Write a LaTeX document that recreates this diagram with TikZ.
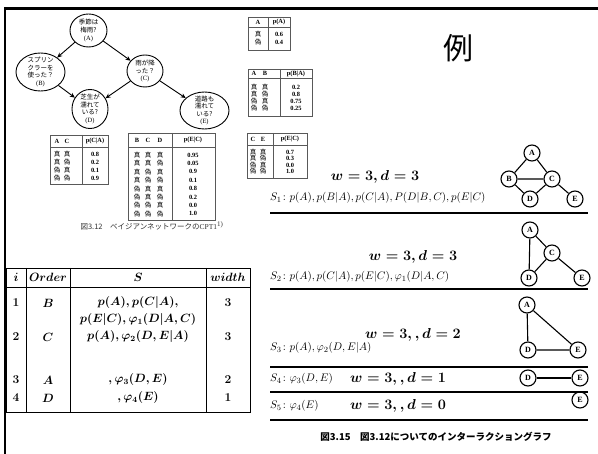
\documentclass[tikz,border=0pt]{standalone}
\usepackage{amsmath}
\usepackage{bm}
\usepackage{fontspec}
\newfontfamily\cjk{Noto Sans CJK JP}
\newfontfamily\tnr{Liberation Serif}
\usetikzlibrary{shapes.geometric,arrows.meta}
\begin{document}
\begin{tikzpicture}[x=1pt,y=-1pt,
  bnshape/.style={ellipse,draw,line width=0.9pt,inner sep=0pt},
  bntext/.style={align=center,inner sep=0pt,font=\cjk\fontsize{6.5}{7.6}\selectfont},
  arr/.style={-{Stealth[length=5pt,width=4.5pt]},line width=0.9pt},
  tframe/.style={draw=black!65,line width=0.8pt},
  tx/.style={font=\tnr\bfseries\fontsize{6.4}{7}\selectfont,inner sep=0pt},
  tj/.style={font=\cjk\fontsize{6.5}{7}\selectfont,inner sep=0pt},
  vtx/.style={circle,draw,line width=1.1pt,minimum size=16pt,inner sep=0pt,font=\tnr\bfseries\fontsize{8}{9}\selectfont},
  gedge/.style={line width=1.1pt},
  sepline/.style={line width=1.8pt},
  wd/.style={font=\fontsize{14}{16}\selectfont\boldmath,inner sep=0pt},
  sl/.style={font=\fontsize{11.3}{13}\selectfont,inner sep=0pt,anchor=west},
  tb/.style={font=\fontsize{12}{14}\selectfont\boldmath,inner sep=0pt},
]
\useasboundingbox (0,0) rectangle (598,454);
\fill[white] (0,0) rectangle (598,454);
% page border
\draw[line width=2.6pt] (5,455) -- (5,8.5) -- (599,8.5);

% Bayesian network
\node[bnshape,minimum width=37pt,minimum height=33pt] (nA) at (88.5,30.5) {};
\node[bntext] (tA) at (nA) {季節は\\梅雨?\\{\tnr (A)}};
\node[bnshape,minimum width=49pt,minimum height=38pt] (nB) at (40.5,72) {};
\node[bntext] (tB) at (nB) {スプリン\\クラーを\\使った？\\{\tnr (B)}};
\node[bnshape,minimum width=36pt,minimum height=32pt] (nC) at (145,71) {};
\node[bntext] (tC) at (nC) {雨が降\\った？\\{\tnr (C)}};
\node[bnshape,minimum width=36pt,minimum height=39pt] (nD) at (90,109) {};
\node[bntext] (tD) at (nD) {芝生が\\濡れて\\いる?\\{\tnr (D)}};
\node[bnshape,minimum width=49pt,minimum height=37pt] (nE) at (204.5,110.5) {};
\node[bntext] (tE) at (nE) {道路も\\濡れて\\いる?\\{\tnr (E)}};
\draw[arr] (nA) -- (nB);
\draw[arr] (nA) -- (nC);
\draw[arr] (nB) -- (nD);
\draw[arr] (nC) -- (nD);
\draw[arr] (nC) -- (nE);

% table p(A)
\draw[tframe] (248,17) rectangle (290,50) (268,17) -- (268,50) (248,27) -- (290,27);
\node[tx] (paH1) at (258,22) {A};
\node[tx] (paH2) at (279,22) {p(A)};
\foreach \a/\v [count=\n] in {真/0.6, 偽/0.4} {
  \node[tj] (paL\n) at (258,26+8*\n) {\a};
  \node[tx] (paR\n) at (279,26+8*\n) {\v};
}

% table p(B|A)
\draw[tframe] (248,69) rectangle (312,116) (280,69) -- (280,116) (248,78) -- (312,78);
\node[tx] (pbH1) at (254,73.5) {A};
\node[tx] (pbH2) at (265,73.5) {B};
\node[tx] (pbH3) at (296,73.5) {p(B|A)};
\foreach \a/\b/\v [count=\n] in {真/真/0.2, 真/偽/0.8, 偽/真/0.75, 偽/偽/0.25} {
  \node[tj] (pbL\n) at (254,80+7*\n) {\a};
  \node[tj] (pbM\n) at (265,80+7*\n) {\b};
  \node[tx] (pbR\n) at (296,80+7*\n) {\v};
}

% table p(C|A)
\draw[tframe] (50,135) rectangle (108,184) (82,135) -- (82,184) (50,147) -- (108,147);
\node[tx] (pcH1) at (57,141) {A};
\node[tx] (pcH2) at (67,141) {C};
\node[tx] (pcH3) at (95,141) {p(C|A)};
\foreach \a/\b/\v [count=\n] in {真/真/0.8, 真/偽/0.2, 偽/真/0.1, 偽/偽/0.9} {
  \node[tj] (pcL\n) at (57,146+8*\n) {\a};
  \node[tj] (pcM\n) at (67,146+8*\n) {\b};
  \node[tx] (pcR\n) at (95,146+8*\n) {\v};
}

% table B C D
\draw[tframe] (128,133) rectangle (215,220) (172,133) -- (172,220) (128,147) -- (215,147);
\node[tx] (pdH1) at (137,140) {B};
\node[tx] (pdH2) at (148,140) {C};
\node[tx] (pdH3) at (160,140) {D};
\node[tx] (pdH4) at (193,140) {p(E|C)};
\foreach \a/\b/\c/\v [count=\n] in {真/真/真/0.95, 真/真/偽/0.05, 真/偽/真/0.9, 真/偽/偽/0.1, 偽/真/真/0.8, 偽/真/偽/0.2, 偽/偽/真/0.0, 偽/偽/偽/1.0} {
  \node[tj] (pdL\n) at (137,146.6+8.4*\n) {\a};
  \node[tj] (pdM\n) at (148,146.6+8.4*\n) {\b};
  \node[tj] (pdN\n) at (160,146.6+8.4*\n) {\c};
  \node[tx] (pdR\n) at (193,146.6+8.4*\n) {\v};
}

% table C E
\draw[tframe] (247,133) rectangle (307,178) (273,133) -- (273,178) (247,145) -- (307,145);
\node[tx] (peH1) at (253,139) {C};
\node[tx] (peH2) at (263,139) {E};
\node[tx] (peH3) at (290,139) {p(E|C)};
\foreach \a/\b/\v [count=\n] in {真/真/0.7, 真/偽/0.3, 偽/真/0.0, 偽/偽/1.0} {
  \node[tj] (peL\n) at (253,145.5+6.5*\n) {\a};
  \node[tj] (peM\n) at (263,145.5+6.5*\n) {\b};
  \node[tx] (peR\n) at (290,145.5+6.5*\n) {\v};
}

\node[font=\cjk\fontsize{7.5}{9}\selectfont,inner sep=0pt,text=black!80] (cap1) at (152,226) {図3.12\quad ベイジアンネットワークの{\tnr CPT1}$^{\text{\tnr\scriptsize 1)}}$};

% 例
\node[font=\cjk\fontsize{30}{34}\selectfont,inner sep=0pt] (rei) at (458,48) {例};

% elimination table
\draw[line width=0.9pt] (6,268) rectangle (250,412);
\draw[line width=0.9pt] (26,268) -- (26,412) (70,268) -- (70,412) (206,268) -- (206,412) (6,287) -- (250,287);
\node[tb] (h1) at (16,277.5) {$i$};
\node[tb] (h2) at (48,277.5) {$Order$};
\node[tb] (h3) at (138,277.5) {$S$};
\node[tb] (h4) at (228,277.5) {$width$};
\node[tb] (r1a) at (16,303) {$1$};
\node[tb] (r1b) at (48,303) {$B$};
\node[tb] (r1c) at (138,303) {$p(A), p(C|A),$};
\node[tb] (r1d) at (228,303) {$3$};
\node[tb] (r1e) at (138,320) {$p(E|C), \varphi_1(D|A,C)$};
\node[tb] (r2a) at (16,337) {$2$};
\node[tb] (r2b) at (48,337) {$C$};
\node[tb] (r2c) at (138,337) {$p(A), \varphi_2(D,E|A)$};
\node[tb] (r2d) at (228,337) {$3$};
\node[tb] (r3a) at (16,380) {$3$};
\node[tb] (r3b) at (48,380) {$A$};
\node[tb] (r3c) at (138,380) {$,\varphi_3(D,E)$};
\node[tb] (r3d) at (228,380) {$2$};
\node[tb] (r4a) at (16,398) {$4$};
\node[tb] (r4b) at (48,398) {$D$};
\node[tb] (r4c) at (138,398) {$,\varphi_4(E)$};
\node[tb] (r4d) at (228,398) {$1$};

% interaction graphs
\node[wd] (w1) at (375,177) {$w = 3, d = 3$};
\node[sl] (s1) at (270,198) {$S_1\colon p(A), p(B|A), p(C|A), P(D|B,C), p(E|C)$};
\node[vtx] (g1A) at (532,153) {A};
\node[vtx] (g1B) at (509,179) {B};
\node[vtx] (g1C) at (552,179) {C};
\node[vtx] (g1D) at (530,199) {D};
\node[vtx] (g1E) at (575,199) {E};
\draw[gedge] (g1A) -- (g1B) (g1A) -- (g1C) (g1B) -- (g1C) (g1B) -- (g1D) (g1C) -- (g1D) (g1C) -- (g1E);
\coordinate (l1a) at (270,213); \coordinate (l1b) at (588,213);
\draw[sepline] (l1a) -- (l1b);

\node[wd] (w2) at (413,257) {$w = 3, d = 3$};
\node[sl] (s2) at (270,277) {$S_2\colon p(A), p(C|A), p(E|C), \varphi_1(D|A,C)$};
\node[vtx] (g2A) at (530,230) {A};
\node[vtx] (g2C) at (552,253) {C};
\node[vtx] (g2D) at (529,278) {D};
\node[vtx] (g2E) at (582,278) {E};
\draw[gedge] (g2A) -- (g2D) (g2A) -- (g2C) (g2C) -- (g2D) (g2C) -- (g2E);
\coordinate (l2a) at (270,289); \coordinate (l2b) at (588,289);
\draw[sepline] (l2a) -- (l2b);

\node[wd] (w3) at (413,335) {$w = 3, , d = 2$};
\node[sl] (s3) at (270,348) {$S_3\colon p(A), \varphi_2(D,E|A)$};
\node[vtx] (g3A) at (527,305) {A};
\node[vtx] (g3D) at (528,350) {D};
\node[vtx] (g3E) at (578,350) {E};
\draw[gedge] (g3A) -- (g3D) (g3A) -- (g3E) (g3D) -- (g3E);
\coordinate (l3a) at (270,367); \coordinate (l3b) at (588,367);
\draw[sepline] (l3a) -- (l3b);

\node[sl] (s4) at (270,379) {$S_4\colon \varphi_3(D,E)$};
\node[wd,anchor=west] (w4) at (350,379) {$w = 3, , d = 1$};
\node[vtx] (g4D) at (528,378) {D};
\node[vtx] (g4E) at (580,378) {E};
\draw[gedge] (g4D) -- (g4E);
\coordinate (l4a) at (270,392); \coordinate (l4b) at (588,392);
\draw[sepline] (l4a) -- (l4b);

\node[sl] (s5) at (270,406) {$S_5\colon \varphi_4(E)$};
\node[wd,anchor=west] (w5) at (350,406) {$w = 3, , d = 0$};
\node[vtx] (g5E) at (580,400) {E};
\coordinate (l5a) at (270,420); \coordinate (l5b) at (588,420);
\draw[sepline] (l5a) -- (l5b);

\node[font=\cjk\bfseries\fontsize{9.5}{11}\selectfont,inner sep=0pt] (cap2) at (436,437) {図3.15\quad 図3.12についてのインターラクショングラフ};
\end{tikzpicture}
\end{document}
